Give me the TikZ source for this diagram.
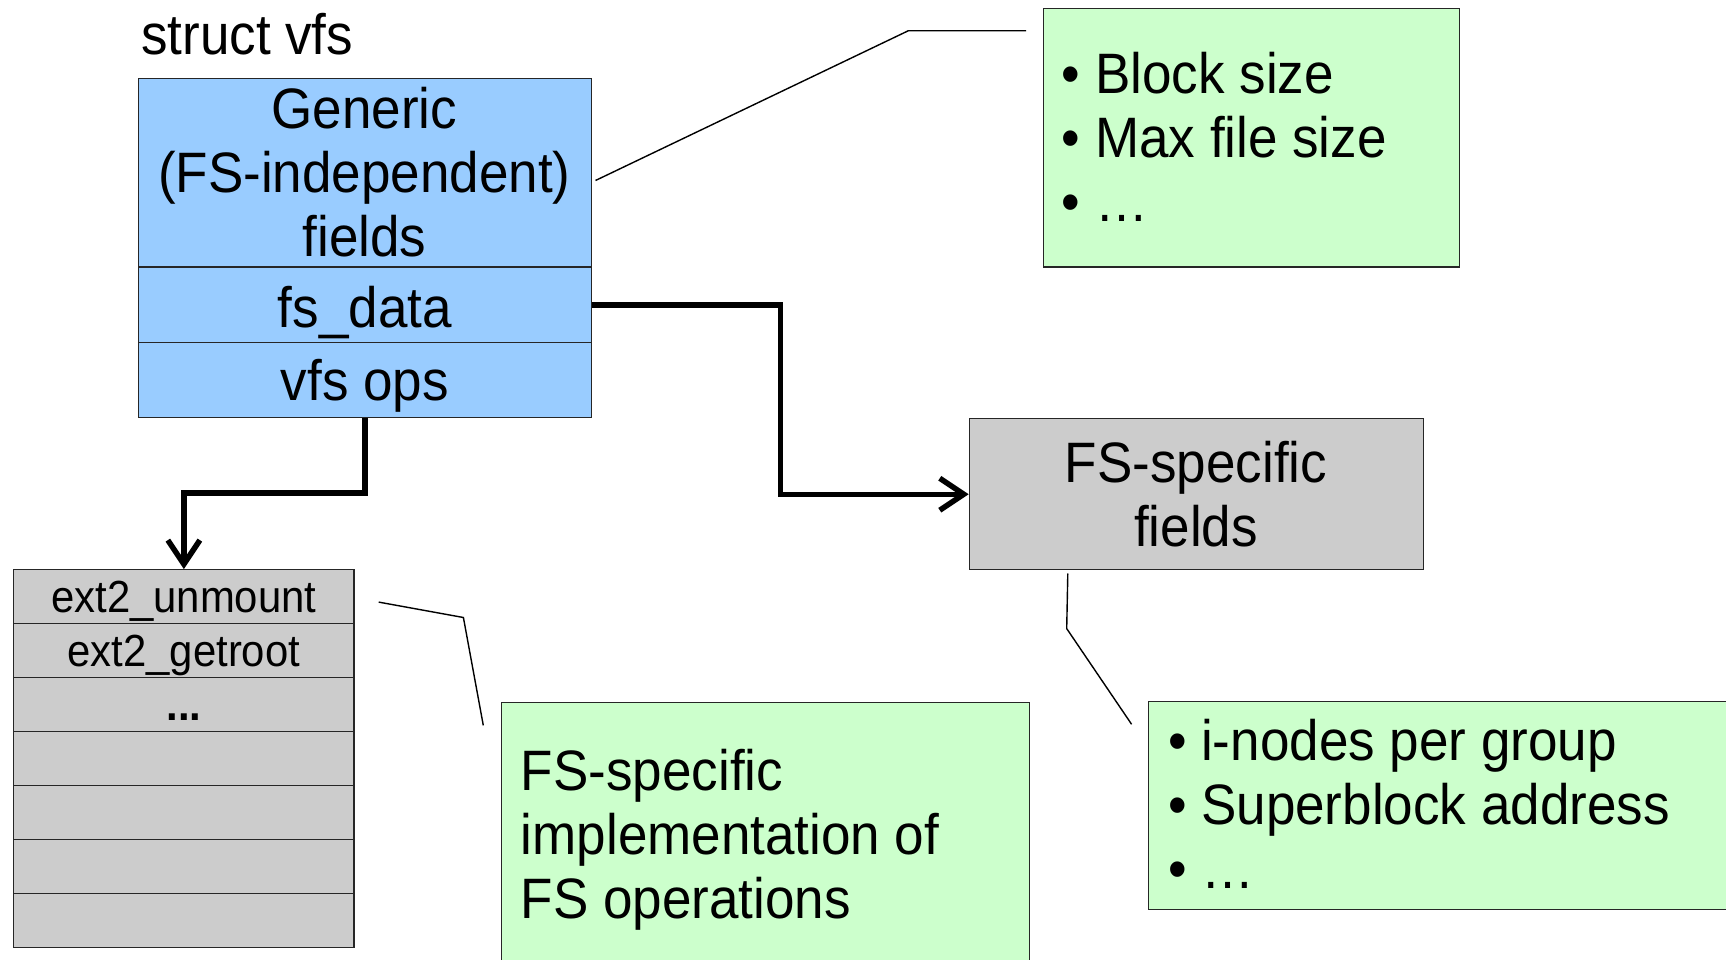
\documentclass[tikz,border=0pt]{standalone}
\usepackage{fontspec}
\setmainfont{Liberation Sans}[FakeStretch=0.93]
\usetikzlibrary{arrows.meta}
\definecolor{vblue}{HTML}{99CCFF}
\definecolor{vgreen}{HTML}{CCFFCC}
\definecolor{vgrey}{HTML}{CCCCCC}
\newcommand\bigf{\fontsize{57}{64}\selectfont}
\newcommand\smallf{\fontsize{45}{50}\selectfont}
\begin{document}
\begin{tikzpicture}[x=1pt,y=-1pt,
  box/.style={draw=black!85, line width=1.1pt, inner sep=0pt, anchor=north west},
  bluebox/.style={box, fill=vblue, minimum width=453.5pt},
  greybox/.style={box, fill=vgrey},
  greenbox/.style={box, fill=vgreen},
  row/.style={greybox, minimum width=340.2pt, text height=42.9pt, text depth=11.04pt, font=\smallf},
  txt/.style={inner sep=0pt, font=\bigf},
  ptr/.style={line width=5.5pt, -{Straight Barb[length=24pt,width=32pt]}},
  callout/.style={line width=1.4pt, black}
]
\useasboundingbox (0,0) rectangle (1726,960);

% struct vfs
\node[txt, anchor=base west] (title) at (141,55) {struct vfs};
\node[bluebox, minimum height=188.2pt] (generic) at (137.6,78.2) {};
\node[txt, align=center, anchor=base] (generictxt) at (364.4,256.8) {Generic\\(FS-independent)\\fields};
\node[bluebox, text height=60.6pt, text depth=15.3pt, font=\bigf] (fsdata) at (137.6,266.4) {fs\_data};
\node[bluebox, text height=57.3pt, text depth=17.6pt, font=\bigf] (vfsops) at (137.6,342.3) {vfs ops};

% top green box
\node[greenbox, minimum width=416.1pt, minimum height=258.7pt] (gtop) at (1042.5,7.7) {};
\node[txt, align=left, anchor=base west] (gtoptxt) at (1061,221.5)
  {\makebox[34pt][l]{•}Block size\\\makebox[34pt][l]{•}Max file size\\\makebox[34pt][l]{•}…};

% FS-specific fields
\node[greybox, minimum width=454.6pt, minimum height=150.8pt] (fsspec) at (968.7,418.3) {};
\node[txt, align=center, anchor=base] (fsspectxt) at (1196,546) {FS-specific\\fields};

% ops table
\node[row] (r1) at (13.2,569.1) {ext2\_unmount};
\node[row] (r2) at (13.2,623.04) {ext2\_getroot};
\node[row] (r3) at (13.2,676.98) {\bfseries ...};
\node[row] (r4) at (13.2,730.92) {};
\node[row] (r5) at (13.2,784.86) {};
\node[row] (r6) at (13.2,838.8) {};
\node[row] (r7) at (13.2,892.74) {};

% bottom-left green box
\node[greenbox, minimum width=528.3pt, minimum height=300pt] (gimpl) at (500.9,702.3) {};
\node[txt, align=left, anchor=base west] (gimpltxt) at (520.7,918)
  {FS-specific\\implementation of\\FS operations};

% bottom-right green box
\node[greenbox, minimum width=620pt, minimum height=208.1pt] (gfs) at (1148,701.2) {};
\node[txt, align=left, anchor=base west] (gfstxt) at (1168,888.5)
  {\makebox[33pt][l]{•}i-nodes per group\\\makebox[33pt][l]{•}Superblock address\\\makebox[33pt][l]{•}…};

% pointers
\draw[ptr] (vfsops.south) -- ++(0,74.8) -| (r1.north);
\draw[ptr] (fsdata.east) -- ++(188.3,0) |- (fsspec.west);

% callouts
\coordinate (c1a) at (595.5,180.5);
\coordinate (c1b) at (908.2,30.8);
\coordinate (c1c) at (1026,30.8);
\draw[callout] (c1a) -- (c1b) -- (c1c);
\coordinate (c2a) at (378.7,602.1);
\coordinate (c2b) at (463.4,617.5);
\coordinate (c2c) at (483.3,725.4);
\draw[callout] (c2a) -- (c2b) -- (c2c);
\coordinate (c3a) at (1067.8,573.5);
\coordinate (c3b) at (1066.7,628.6);
\coordinate (c3c) at (1131.6,724.3);
\draw[callout] (c3a) -- (c3b) -- (c3c);
\end{tikzpicture}
\end{document}
